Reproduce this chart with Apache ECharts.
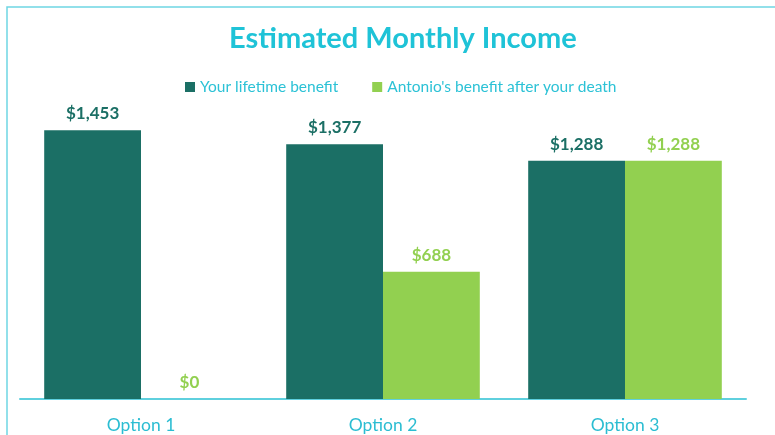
<!DOCTYPE html>
<html><head><meta charset="utf-8">
<script src="https://cdn.jsdelivr.net/npm/echarts@6/dist/echarts.min.js"></script>
<style>html,body{margin:0;padding:0;background:#fff}#c{width:775px;height:435px}</style>
</head><body><div id="c"></div>
<script>
const categories = ['Option 1', 'Option 2', 'Option 3'];
const lifetimeBenefit = [1453, 1377, 1288];
const antonioBenefit = [0, 688, 1288];
const seriesNames = ['Your lifetime benefit', "Antonio's benefit after your death"];

const chart = echarts.init(document.getElementById('c'));
const font = 'Lato, "Open Sans", sans-serif';
const fmt = p => '$' + p.value.toLocaleString('en-US');
chart.setOption({
  animation: false,
  textStyle: { fontFamily: font },
  graphic: [{
    type: 'polyline', shape: { points: [[7, 435], [7, 7], [775, 7]] },
    style: { stroke: '#6fd6e3', lineWidth: 1.5, fill: null }
  }],
  title: {
    text: 'Estimated Monthly Income', left: 224, top: 19,
    textStyle: { color: '#1fc3d7', fontSize: 29, fontWeight: 'bold', fontFamily: font }
  },
  legend: {
    top: 74, left: 180, itemGap: 34, itemWidth: 10, itemHeight: 10,
    icon: 'rect',
    textStyle: { color: '#2cc2d6', fontSize: 15.5, fontFamily: font }
  },
  grid: { left: 20, right: 29, top: 103, bottom: 36 },
  xAxis: {
    type: 'category', data: categories,
    axisLine: { lineStyle: { color: '#5fd0de', width: 2 } },
    axisTick: { show: false },
    axisLabel: { color: '#2bbdd2', fontSize: 17.5, margin: 17, fontFamily: font }
  },
  yAxis: { type: 'value', min: 0, max: 1600, show: false, splitLine: { show: false } },
  series: [
    {
      name: seriesNames[0], type: 'bar', data: lifetimeBenefit, barGap: '0%', barCategoryGap: '20%',
      itemStyle: { color: '#1b6f65' },
      label: { show: true, position: 'top', distance: 8, formatter: fmt, color: '#1b6f65', fontWeight: 'bold', fontSize: 17, fontFamily: font }
    },
    {
      name: seriesNames[1], type: 'bar', data: antonioBenefit,
      itemStyle: { color: '#92d050' },
      label: { show: true, position: 'top', distance: 8, formatter: fmt, color: '#92d050', fontWeight: 'bold', fontSize: 17, fontFamily: font }
    }
  ]
});
</script></body></html>
